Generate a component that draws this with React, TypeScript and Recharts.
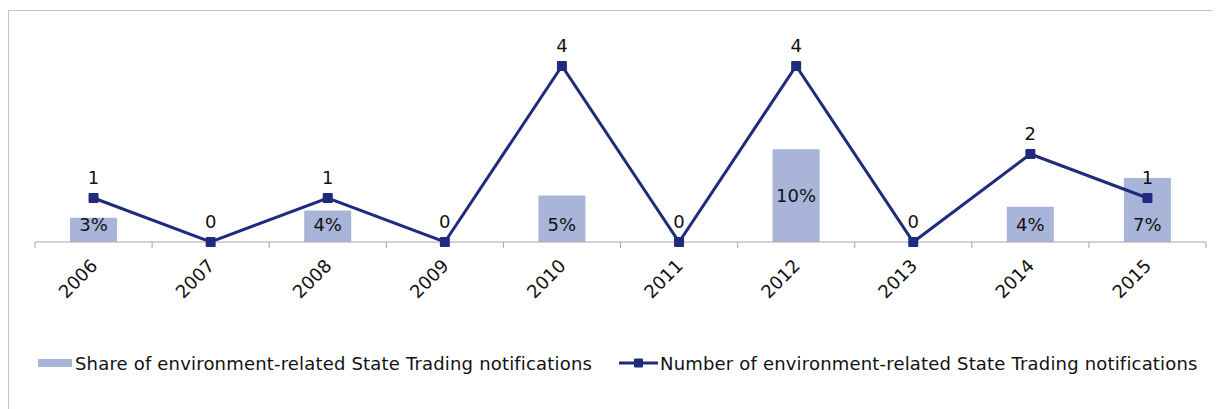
import { ComposedChart, Bar, Line, XAxis, YAxis, LabelList, Legend } from 'recharts'

const years = ['2006', '2007', '2008', '2009', '2010', '2011', '2012', '2013', '2014', '2015']
// share of environment-related notifications (bar heights), null where no bar
const shares = [0.026, null, 0.034, null, 0.05, null, 0.1, null, 0.038, 0.069]
const shareLabels = ['3%', '', '4%', '', '5%', '', '10%', '', '4%', '7%']
const counts = [1, 0, 1, 0, 4, 0, 4, 0, 2, 1]

const BAR_COLOR = '#a9b4d9'
const LINE_COLOR = '#1f2b7d'
const AXIS_COLOR = '#a6a6a6'
const FONT = '"DejaVu Sans", Verdana, sans-serif'
const FS = 18

const CHART_W = 1212
const CHART_H = 398
const MARGIN = { top: 11, right: 15, left: 26, bottom: 35 }
const BAND = (CHART_W - MARGIN.left - MARGIN.right) / years.length

const data = years.map((year, i) => ({
  year,
  share: shares[i],
  shareLabel: shareLabels[i],
  count: counts[i],
}))

function YearTick({ x, y, payload, index }: any) {
  const half = BAND / 2
  const axisY = y - 8
  const ax = x + 5
  const ay = y + 17
  return (
    <g>
      <line x1={x - half} x2={x - half} y1={axisY} y2={axisY + 6} stroke={AXIS_COLOR} />
      {index === years.length - 1 && (
        <line x1={x + half} x2={x + half} y1={axisY} y2={axisY + 6} stroke={AXIS_COLOR} />
      )}
      <text
        x={ax}
        y={ay}
        textAnchor="end"
        transform={`rotate(-45, ${ax}, ${ay})`}
        fontSize={FS}
        fontFamily={FONT}
        fill="#111"
      >
        {payload.value}
      </text>
    </g>
  )
}

function ShareLabel({ x, y, width, height, value }: any) {
  if (!value) return null
  // tall bars get the label in the middle, short ones near the base
  const cy = height > 80 ? y + height / 2 : y + height - 17
  return (
    <text x={x + width / 2} y={cy} dy="0.35em" textAnchor="middle" fontSize={FS} fontFamily={FONT} fill="#111">
      {value}
    </text>
  )
}

function SquareDot({ cx, cy }: any) {
  if (cx == null || cy == null) return null
  return <rect x={cx - 5} y={cy - 5} width={10} height={10} rx={1} fill={LINE_COLOR} />
}

function LegendContent() {
  const text = {
    fontSize: FS,
    fontFamily: FONT,
    color: '#111',
    whiteSpace: 'nowrap' as const,
    letterSpacing: 0.18,
  }
  return (
    <div style={{ position: 'relative', height: 22 }}>
      <div style={{ position: 'absolute', left: 29, top: 0, height: 22, display: 'flex', alignItems: 'center' }}>
        <span style={{ display: 'inline-block', width: 34, height: 8, background: BAR_COLOR, marginRight: 3 }} />
        <span style={text}>Share of environment-related State Trading notifications</span>
      </div>
      <div style={{ position: 'absolute', left: 610, top: 0, height: 22, display: 'flex', alignItems: 'center' }}>
        <svg width={39} height={12} style={{ marginRight: 2 }}>
          <line x1={0} x2={39} y1={6} y2={6} stroke={LINE_COLOR} strokeWidth={3} />
          <rect x={15} y={1.5} width={9} height={9} rx={1} fill={LINE_COLOR} />
        </svg>
        <span style={text}>Number of environment-related State Trading notifications</span>
      </div>
    </div>
  )
}

export default function App() {
  return (
    <div
      style={{
        marginTop: 2,
        width: 1213,
        height: 399,
        borderTop: '1px solid #c8c8c8',
        borderLeft: '1px solid #c8c8c8',
        background: '#fff',
      }}
    >
      <ComposedChart width={CHART_W} height={CHART_H} data={data} margin={MARGIN}>
        <XAxis
          dataKey="year"
          height={110}
          interval={0}
          axisLine={{ stroke: AXIS_COLOR }}
          tickLine={false}
          tick={<YearTick />}
        />
        <YAxis yAxisId="share" hide domain={[0, 0.237]} />
        <YAxis yAxisId="count" hide orientation="right" domain={[0, 5]} />
        <Bar yAxisId="share" dataKey="share" fill={BAR_COLOR} barSize={47} isAnimationActive={false}>
          <LabelList dataKey="shareLabel" content={<ShareLabel />} />
        </Bar>
        <Line
          yAxisId="count"
          dataKey="count"
          stroke={LINE_COLOR}
          strokeWidth={3}
          dot={<SquareDot />}
          activeDot={false}
          isAnimationActive={false}
        >
          <LabelList dataKey="count" position="top" offset={14} fontSize={FS} fontFamily={FONT} fill="#111" />
        </Line>
        <Legend verticalAlign="bottom" wrapperStyle={{ left: 0, width: CHART_W }} content={<LegendContent />} />
      </ComposedChart>
    </div>
  )
}
